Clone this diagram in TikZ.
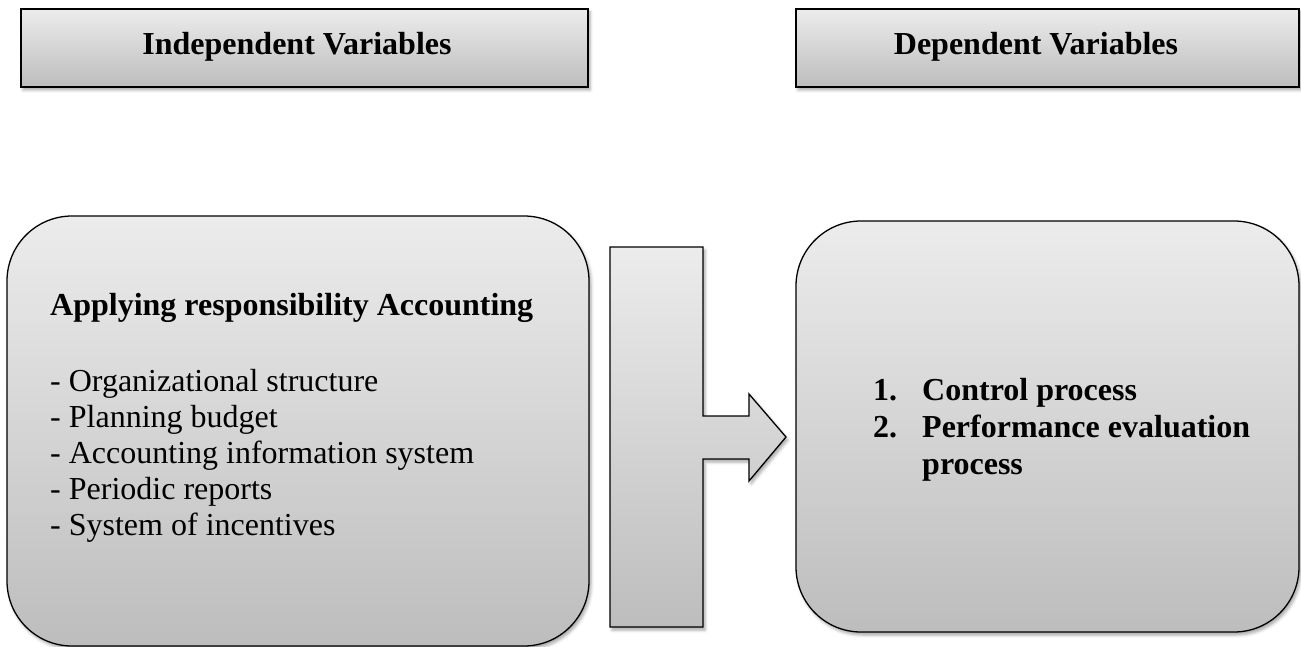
\documentclass[tikz,border=0pt]{standalone}
\usepackage{fontspec}
\setmainfont{Liberation Serif}
\usepackage{tikz}
\usetikzlibrary{calc,positioning,shapes,shadows.blur}
\definecolor{boxtop}{RGB}{236,236,236}
\definecolor{boxbot}{RGB}{189,189,189}

\begin{document}
\begin{tikzpicture}[x=1pt,y=-1pt,
  grey/.style={top color=boxtop, bottom color=boxbot, draw=black,
               blur shadow={shadow xshift=2pt, shadow yshift=-3pt,
                            shadow blur radius=3pt, shadow opacity=35}},
  headbox/.style={grey, rectangle, line width=2pt, inner sep=0pt,
                  minimum width=567pt, minimum height=78pt},
  bigbox/.style={grey, rectangle, rounded corners=65pt, line width=1.3pt,
                 inner sep=0pt},
  txt/.style={inner sep=0pt, anchor=base west,
              font=\fontsize{32}{37}\selectfont},
  bold/.style={txt, font=\fontsize{32}{37}\selectfont\bfseries}]
\useasboundingbox (0,0) rectangle (1301,647);
% headings
\node[headbox] (indepbox) at (304.5,48){};
\node[headbox, minimum width=503pt] (depbox) at (1047.5,48){};
\node[bold, anchor=base] (indep) at (297,55){Independent Variables};
\node[bold, anchor=base] (dep) at (1036,55){Dependent Variables};
% main boxes
\node[bigbox, minimum width=582pt, minimum height=430pt] (left) at (298,431){};
\node[bigbox, minimum width=503pt, minimum height=411pt] (right) at (1047.5,426.5){};
% bent arrow
\draw[grey, line width=1.3pt] (610,247) -- (703,247) -- (703,416) -- (749,416)
  -- (749,394) -- (786,437) -- (749,481) -- (749,459) -- (703,459)
  -- (703,627) -- (610,627) -- cycle;
% left list
\node[bold] (title) at (50,315){Applying responsibility Accounting};
\foreach \t [count=\i] in {Organizational structure, Planning budget,
    Accounting information system, Periodic reports, System of incentives}{
  \node[txt] (item\i) at (50,355+36*\i){- \t};
}
% right list
\node[bold] (n1) at (873,400){1.};
\node[bold] (ctl) at (922,400){Control process};
\node[bold] (n2) at (873,437){2.};
\node[bold] (perf) at (922,437){Performance evaluation};
\node[bold] (proc) at (922,474){process};
\end{tikzpicture}
\end{document}
